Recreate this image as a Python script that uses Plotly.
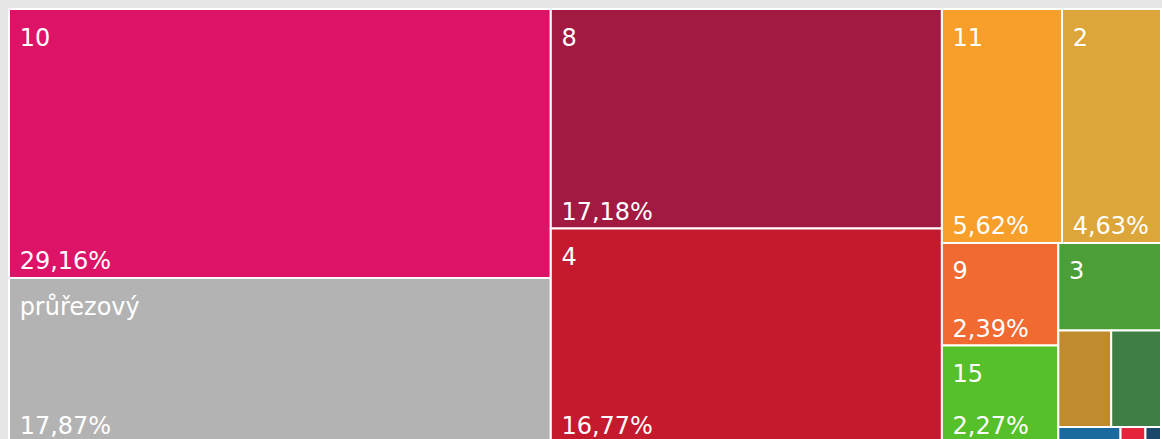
import plotly.graph_objects as go

# Share of each goal (percent of the total)
labels = ["10", "průřezový", "8", "4", "11", "2", "9", "15", "3", "12", "13", "16", "1", "17"]
values = [29.16, 17.87, 17.18, 16.77, 5.62, 4.63, 2.39, 2.27, 1.80, 1.02, 0.96, 0.20, 0.08, 0.05]
colors = ["#DD1367", "#B3B3B3", "#A21942", "#C5192D", "#F89E2B", "#DCA63B", "#F06A32",
          "#56C02B", "#4C9F38", "#BF8B2E", "#3F7E44", "#1B6A9E", "#E5243B", "#19486A"]
parents = [""] * len(labels)

# Small tiles carry no text: labels from 1.5 %, shares from 2 %
LABEL_MIN, SHARE_MIN = 1.5, 2.0
SIZE = 24
NB = "\u00a0"

# Upper text: a thin spacer line, then the label, indented by one space
label_text = [
    f"{NB}<br><span style='font-size:{SIZE}px'>{NB}{lab}</span>" if v >= LABEL_MIN else ""
    for lab, v in zip(labels, values)
]
# Lower text: the share with a decimal comma, e.g. "29,16%"
pct_text = [
    NB + f"{v:.2f}%".replace(".", ",") if v >= SHARE_MIN else ""
    for v in values
]

no_pad = dict(t=0, l=0, r=0, b=0)
tiling = dict(packing="squarify", squarifyratio=1.618, pad=0)

fig = go.Figure()

# Coloured tiles with the goal label in the upper-left corner
fig.add_trace(go.Treemap(
    labels=labels,
    parents=parents,
    values=values,
    sort=True,
    text=label_text,
    marker=dict(colors=colors, line=dict(color="white", width=2), pad=no_pad),
    texttemplate="%{text}",
    textposition="top left",
    textfont=dict(family="DejaVu Sans", size=15, color="white"),
    hoverinfo="skip",
    pathbar=dict(visible=False),
    tiling=tiling,
))

# Same layout again, transparent, carrying the share in the lower-left corner
fig.add_trace(go.Treemap(
    labels=labels,
    parents=parents,
    values=values,
    sort=True,
    text=pct_text,
    marker=dict(colors=["rgba(0,0,0,0)"] * len(labels), line=dict(width=0), pad=no_pad),
    texttemplate="%{text}",
    textposition="bottom left",
    textfont=dict(family="DejaVu Sans", size=SIZE, color="white"),
    hoverinfo="skip",
    pathbar=dict(visible=False),
    tiling=tiling,
))

fig.update_layout(
    width=1162,
    height=443,
    margin=dict(l=9, r=1, t=9, b=0),
    paper_bgcolor="#E6E6E6",
    showlegend=False,
)

# The chart runs a few pixels past the bottom of the window; no scrollbars
fig.write_html(
    "out.html",
    post_script="document.documentElement.style.overflow='hidden';"
                "document.body.style.overflow='hidden';",
)
